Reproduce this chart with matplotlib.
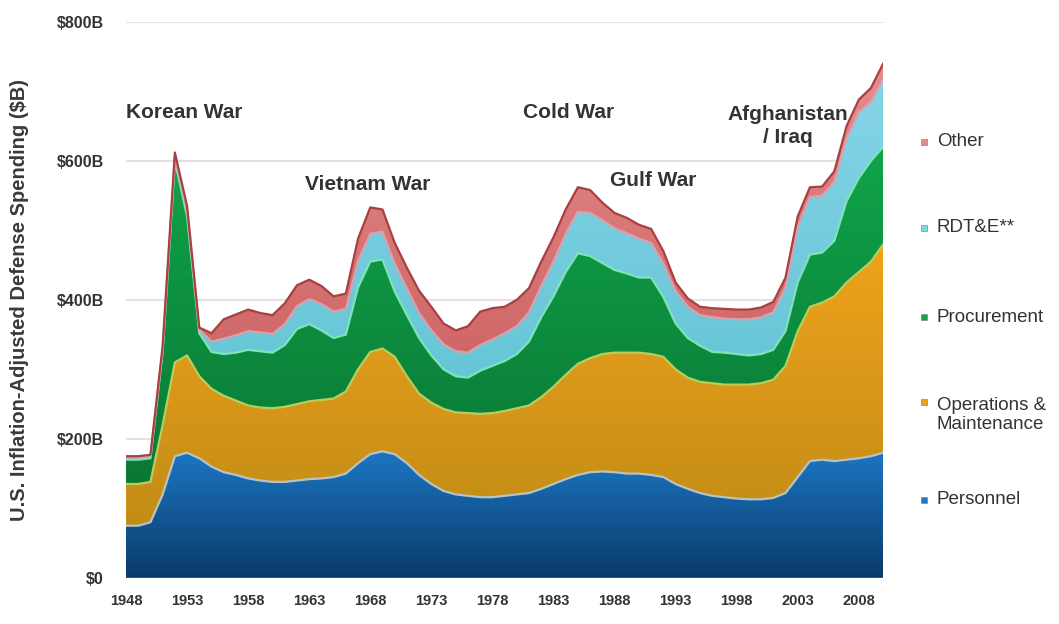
"""Stacked-area chart of U.S. inflation-adjusted defense spending by category, 1948-2010."""

import matplotlib

matplotlib.use("Agg")
import matplotlib.pyplot as plt  # noqa: E402
import numpy as np  # noqa: E402
from matplotlib.colors import LinearSegmentedColormap  # noqa: E402
from matplotlib.patches import Rectangle  # noqa: E402

plt.rcParams["font.family"] = ["Liberation Sans", "DejaVu Sans"]

years = list(range(1948, 2011))

# $B per category
personnel = [75, 75, 80, 120, 175, 180, 172, 160, 152, 148, 143, 140, 138, 138, 140, 142,
             143, 145, 150, 165, 178, 182, 178, 165, 148, 135, 125, 120, 118, 116, 116, 118,
             120, 122, 128, 135, 142, 148, 152, 153, 152, 150, 150, 148, 145, 135, 128, 122,
             118, 116, 114, 113, 113, 115, 122, 145, 168, 170, 168, 170, 172, 175, 180]
operations = [60, 60, 58, 100, 135, 140, 118, 112, 110, 107, 105, 105, 106, 108, 110, 112,
              113, 113, 118, 135, 147, 148, 140, 125, 117, 117, 118, 118, 119, 120, 121, 122,
              124, 126, 132, 140, 150, 160, 164, 169, 172, 174, 174, 174, 173, 165, 160, 160,
              162, 162, 164, 165, 167, 170, 183, 210, 222, 226, 237, 255, 268, 280, 300]
procurement = [35, 35, 34, 105, 290, 200, 62, 53, 60, 69, 80, 81, 80, 89, 108, 111,
               100, 87, 82, 118, 130, 128, 94, 88, 80, 68, 57, 52, 51, 62, 68, 72,
               78, 92, 115, 130, 148, 159, 147, 131, 119, 114, 108, 110, 86, 66, 57, 52,
               45, 46, 44, 42, 42, 43, 50, 70, 75, 72, 80, 117, 135, 145, 140]
rdte = [3, 3, 3, 4, 6, 8, 5, 15, 22, 25, 27, 27, 27, 30, 33, 36,
        38, 38, 37, 38, 40, 40, 40, 38, 36, 36, 36, 36, 36, 37, 38, 40,
        40, 42, 45, 50, 55, 60, 62, 62, 60, 58, 56, 50, 48, 47, 45, 44,
        50, 49, 50, 52, 53, 54, 63, 80, 83, 82, 85, 90, 95, 85, 98]
other = [2, 2, 2, 5, 6, 7, 3, 12, 28, 30, 31, 28, 27, 30, 30, 28,
         26, 22, 22, 32, 38, 32, 30, 30, 32, 34, 30, 30, 38, 48, 45, 38,
         38, 35, 35, 35, 35, 35, 33, 25, 22, 22, 20, 20, 18, 12, 12, 12,
         13, 14, 14, 14, 14, 15, 14, 15, 14, 13, 15, 18, 18, 20, 22]

labels = ["Personnel", "Operations &\nMaintenance", "Procurement", "RDT&E**", "Other"]
series = [personnel, operations, procurement, rdte, other]
# (top of gradient, bottom of gradient, boundary line)
colors = [
    ("#1c76c4", "#0a3a68", "#b9c4c0"),
    ("#f0a21c", "#c28d16", "#b5cf5a"),
    ("#10a449", "#0a7836", "#7fe3b8"),
    ("#86d4e6", "#5cc2d2", "#d9a0b0"),
    ("#e58c8c", "#c85a5a", "#a84040"),
]
annotations = [
    ("Korean War", 1952.8, 670),
    ("Vietnam War", 1967.8, 566),
    ("Cold War", 1984.2, 670),
    ("Gulf War", 1991.2, 572),
    ("Afghanistan\n/ Iraq", 2002.2, 650),
]

fig = plt.figure(figsize=(10.59, 6.24), dpi=100)
ax = fig.add_axes([0.119, 0.074, 0.715, 0.891])

x = np.array(years, dtype=float)
base = np.zeros_like(x)
for vals, (c_top, c_bot, c_edge) in zip(series, colors):
    top = base + np.array(vals, dtype=float)
    poly = ax.fill_between(x, base, top, facecolor="none", edgecolor="none")
    # vertical gradient clipped to the band
    cmap = LinearSegmentedColormap.from_list("g", [c_bot, c_top])
    lo, hi = base.min(), top.max()
    im = ax.imshow(np.linspace(0, 1, 256).reshape(-1, 1), cmap=cmap, aspect="auto",
                   origin="lower", extent=[x[0], x[-1], lo, hi], zorder=2,
                   interpolation="bilinear")
    im.set_clip_path(poly.get_paths()[0], transform=ax.transData)
    ax.plot(x, top, color=c_edge, lw=1.6, zorder=3, solid_joinstyle="round")
    base = top

ax.set_xlim(1948, 2010)
ax.set_ylim(0, 800)
ax.set_yticks([0, 200, 400, 600, 800])
ax.set_yticklabels(["$0", "$200B", "$400B", "$600B", "$800B"])
ax.set_xticks(range(1948, 2010, 5))
ax.tick_params(length=0, labelcolor="#333333")
ax.tick_params(axis="y", pad=16, labelsize=11.5)
ax.tick_params(axis="x", pad=12, labelsize=10.5)
for lab in ax.get_xticklabels() + ax.get_yticklabels():
    lab.set_fontweight("bold")
for s in ax.spines.values():
    s.set_visible(False)
ax.grid(axis="y", color="#e8e0e0", lw=1.5, zorder=0)
ax.set_axisbelow(True)

ax.set_ylabel("U.S. Inflation-Adjusted Defense Spending ($B)", fontsize=14.5,
              fontweight="bold", color="#3a3a3a")
ax.yaxis.set_label_coords(-0.128, 0.5)

for text, xa, ya in annotations:
    ax.text(xa, ya, text, ha="center", va="center", fontsize=15, fontweight="bold",
            color="#333333", linespacing=1.25, zorder=5)

# legend on the right, top to bottom (pixel rows of the reference)
legend_y = [142, 228, 317, 415, 500]
for i, (label, (c_top, _, _)) in enumerate(zip(labels[::-1], colors[::-1])):
    ly = 1 - legend_y[i] / 624
    fig.text(937 / 1059, ly, label, ha="left", va="center", fontsize=13.5,
             color="#333333", linespacing=1.15)
    mark_y = ly + (0.021 if "\n" in label else 0)
    fig.patches.append(Rectangle((921 / 1059, mark_y - 3 / 624), 6 / 1059, 6 / 624,
                                 transform=fig.transFigure, facecolor=c_top,
                                 edgecolor="#888888", lw=0.5))

fig.savefig("out.png", dpi=100)
